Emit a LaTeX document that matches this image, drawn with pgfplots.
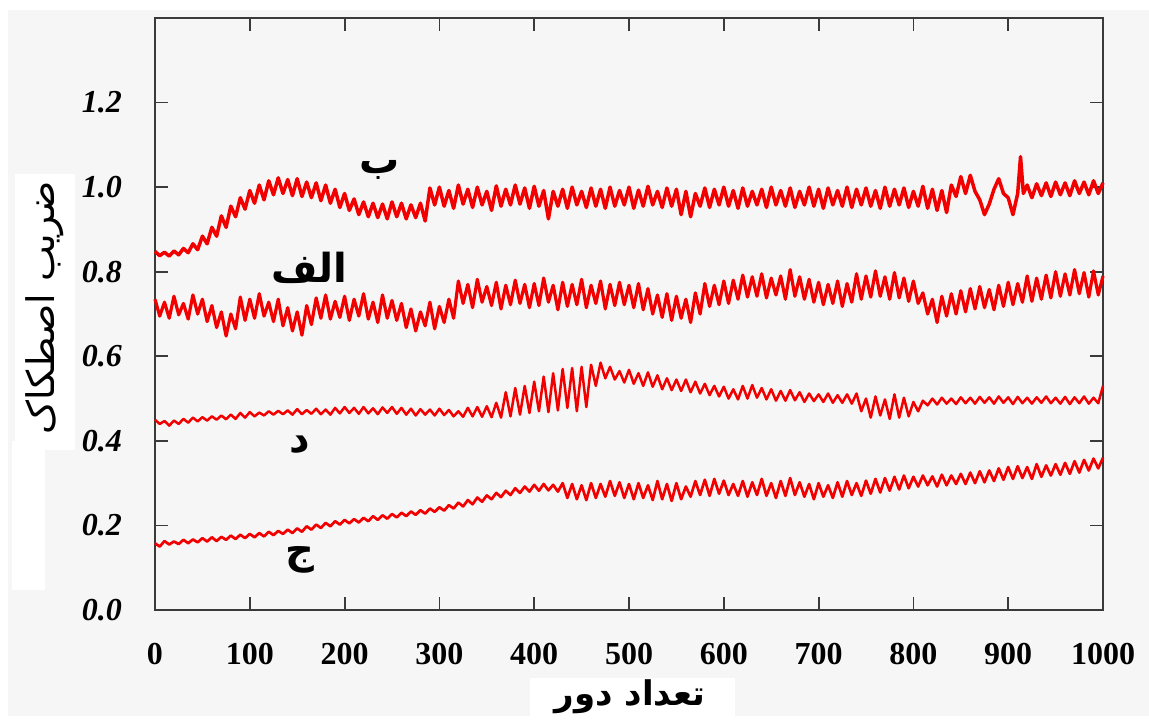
\documentclass[border=0pt]{standalone}
\usepackage{fontspec}
\setmainfont{Liberation Serif}
\newfontfamily\arabicfont[Script=Arabic]{DejaVu Sans}
\TeXXeTstate=1
\usepackage{pgfplots}
\pgfplotsset{compat=1.18}
\definecolor{curve}{HTML}{F20000}
\definecolor{bggray}{HTML}{F6F6F6}
\definecolor{axgray}{HTML}{3A3A3A}
\tikzset{trace/.style={curve, line width=1.3pt, line join=round, mark=none}}

\begin{document}
\begin{tikzpicture}
% page background (1px = 0.5pt, axis origin at lower left of the frame)
\fill[white] (-77.5pt,-53pt) rectangle (497pt,305pt);
\fill[bggray] (-73.5pt,-53pt) rectangle (497pt,300pt);
\begin{axis}[
    at={(0,0)}, anchor=south west,
    scale only axis,
    width=474pt, height=296pt,
    xmin=0, xmax=1000,
    ymin=0, ymax=1.4,
    xtick={0,100,...,1000},
    ytick={0,0.2,...,1.2},
    minor tick num=0,
    tick align=inside,
    major tick length=6.5pt,
    axis line style={axgray, line width=1pt},
    every tick/.style={axgray, line width=0.9pt},
    clip=false,
    font=\fontsize{16}{18}\selectfont,
    xticklabel style={font=\fontsize{16}{18}\selectfont\bfseries, yshift=-13pt},
    yticklabel style={font=\fontsize{16}{18}\selectfont\bfseries\itshape, xshift=-13pt,
        /pgf/number format/.cd, fixed, fixed zerofill, precision=1, assume math mode=true},
    xticklabel style={/pgf/number format/.cd, assume math mode=true, set thousands separator={}},
]
% white patches behind the axis titles
\fill[white] (axis cs:-147.7,1.032) rectangle (axis cs:-84.4,0.378);
\fill[white] (axis cs:-150.8,0.40) rectangle (axis cs:-116,0.047);
\fill[white] (axis cs:395.6,-0.161) rectangle (axis cs:611.8,-0.26);

% curve b (top)
\addplot[trace, line width=1.75pt] coordinates {
(0,0.848)(5,0.838)(10,0.846)(15,0.837)(20,0.849)(25,0.840)(30,0.855)(35,0.845)(40,0.866)(45,0.852)(50,0.884)(55,0.866)(60,0.905)(65,0.884)(70,0.932)(75,0.905)(80,0.955)(85,0.930)(90,0.975)(95,0.948)(100,0.992)(105,0.962)(110,1.005)(115,0.970)(120,1.015)(125,0.982)(130,1.022)(135,0.985)(140,1.018)(145,0.980)(150,1.020)(155,0.978)(160,1.012)(165,0.975)(170,1.010)(175,0.968)(180,1.005)(185,0.962)(190,0.995)(195,0.952)(200,0.985)(205,0.945)(210,0.972)(215,0.935)(220,0.965)(225,0.930)(230,0.962)(235,0.928)(240,0.960)(245,0.925)(250,0.965)(255,0.930)(260,0.962)(265,0.925)(270,0.958)(275,0.928)(280,0.962)(285,0.920)(290,0.998)(295,0.958)(300,1.000)(305,0.955)(310,0.992)(315,0.950)(320,1.005)(325,0.960)(330,0.995)(335,0.952)(340,1.000)(345,0.958)(350,0.990)(355,0.945)(360,1.003)(365,0.955)(370,0.995)(375,0.958)(380,1.005)(385,0.960)(390,0.998)(395,0.950)(400,1.002)(405,0.955)(410,0.992)(415,0.925)(420,0.990)(425,0.955)(430,0.995)(435,0.950)(440,1.000)(445,0.958)(450,0.990)(455,0.952)(460,0.998)(465,0.955)(470,0.995)(475,0.950)(480,1.000)(485,0.955)(490,0.992)(495,0.958)(500,1.000)(505,0.950)(510,0.993)(515,0.955)(520,1.002)(525,0.958)(530,0.990)(535,0.952)(540,0.998)(545,0.955)(550,0.995)(555,0.935)(560,0.990)(565,0.930)(570,0.985)(575,0.955)(580,0.998)(585,0.952)(590,0.995)(595,0.958)(600,1.000)(605,0.955)(610,0.992)(615,0.950)(620,0.998)(625,0.955)(630,0.990)(635,0.958)(640,0.995)(645,0.952)(650,1.000)(655,0.958)(660,0.992)(665,0.955)(670,0.998)(675,0.952)(680,0.990)(685,0.958)(690,1.000)(695,0.955)(700,0.995)(705,0.950)(710,0.998)(715,0.958)(720,0.992)(725,0.955)(730,1.000)(735,0.952)(740,0.995)(745,0.958)(750,0.998)(755,0.955)(760,0.992)(765,0.950)(770,1.000)(775,0.955)(780,0.995)(785,0.958)(790,0.998)(795,0.952)(800,0.990)(805,0.955)(810,1.002)(815,0.950)(820,0.995)(825,0.945)(830,0.992)(835,0.940)(840,1.005)(845,0.978)(850,1.025)(855,0.985)(860,1.028)(865,0.990)(870,0.970)(875,0.935)(880,0.960)(885,0.995)(890,1.020)(895,0.985)(900,0.975)(905,0.935)(910,0.985)(913,1.072)(916,0.985)(920,1.005)(925,0.975)(930,1.008)(935,0.980)(940,1.010)(945,0.978)(950,1.012)(955,0.982)(960,1.010)(965,0.980)(970,1.015)(975,0.985)(980,1.012)(985,0.982)(990,1.015)(995,0.985)(1000,1.010)
};
% curve alef
\addplot[trace, line width=1.6pt] coordinates {
(0,0.735)(5,0.695)(10,0.728)(15,0.690)(20,0.742)(25,0.698)(30,0.725)(35,0.688)(40,0.745)(45,0.700)(50,0.735)(55,0.682)(60,0.720)(65,0.668)(70,0.705)(75,0.648)(80,0.700)(85,0.665)(90,0.740)(95,0.685)(100,0.735)(105,0.690)(110,0.748)(115,0.695)(120,0.728)(125,0.682)(130,0.735)(135,0.672)(140,0.715)(145,0.660)(150,0.705)(155,0.650)(160,0.720)(165,0.675)(170,0.738)(175,0.690)(180,0.745)(185,0.688)(190,0.730)(195,0.692)(200,0.742)(205,0.685)(210,0.735)(215,0.695)(220,0.748)(225,0.688)(230,0.728)(235,0.680)(240,0.745)(245,0.690)(250,0.732)(255,0.685)(260,0.725)(265,0.668)(270,0.712)(275,0.660)(280,0.705)(285,0.672)(290,0.728)(295,0.665)(300,0.718)(305,0.680)(310,0.735)(315,0.690)(320,0.778)(325,0.725)(330,0.770)(335,0.715)(340,0.782)(345,0.728)(350,0.765)(355,0.720)(360,0.775)(365,0.712)(370,0.768)(375,0.722)(380,0.780)(385,0.725)(390,0.770)(395,0.715)(400,0.772)(405,0.720)(410,0.785)(415,0.728)(420,0.768)(425,0.710)(430,0.775)(435,0.718)(440,0.770)(445,0.722)(450,0.782)(455,0.715)(460,0.768)(465,0.725)(470,0.778)(475,0.712)(480,0.770)(485,0.720)(490,0.775)(495,0.722)(500,0.768)(505,0.715)(510,0.772)(515,0.710)(520,0.760)(525,0.700)(530,0.745)(535,0.692)(540,0.748)(545,0.685)(550,0.742)(555,0.690)(560,0.735)(565,0.680)(570,0.750)(575,0.700)(580,0.772)(585,0.718)(590,0.768)(595,0.722)(600,0.778)(605,0.725)(610,0.780)(615,0.735)(620,0.792)(625,0.740)(630,0.788)(635,0.742)(640,0.795)(645,0.738)(650,0.785)(655,0.745)(660,0.790)(665,0.735)(670,0.805)(675,0.742)(680,0.788)(685,0.735)(690,0.782)(695,0.728)(700,0.775)(705,0.722)(710,0.770)(715,0.725)(720,0.778)(725,0.718)(730,0.772)(735,0.728)(740,0.795)(745,0.735)(750,0.790)(755,0.740)(760,0.802)(765,0.742)(770,0.788)(775,0.735)(780,0.798)(785,0.738)(790,0.785)(795,0.730)(800,0.778)(805,0.725)(810,0.750)(815,0.700)(820,0.735)(825,0.680)(830,0.742)(835,0.695)(840,0.748)(845,0.700)(850,0.755)(855,0.705)(860,0.760)(865,0.712)(870,0.765)(875,0.715)(880,0.758)(885,0.710)(890,0.768)(895,0.718)(900,0.775)(905,0.722)(910,0.772)(915,0.728)(920,0.790)(925,0.730)(930,0.785)(935,0.735)(940,0.792)(945,0.738)(950,0.800)(955,0.742)(960,0.795)(965,0.745)(970,0.805)(975,0.748)(980,0.798)(985,0.740)(990,0.802)(995,0.745)(1000,0.790)
};
% curve dal
\addplot[trace, line width=1.25pt] coordinates {
(0,0.450)(5,0.440)(10,0.447)(15,0.436)(20,0.448)(25,0.440)(30,0.452)(35,0.443)(40,0.455)(45,0.446)(50,0.456)(55,0.448)(60,0.458)(65,0.450)(70,0.460)(75,0.451)(80,0.462)(85,0.452)(90,0.466)(95,0.455)(100,0.468)(105,0.458)(110,0.467)(115,0.460)(120,0.470)(125,0.462)(130,0.471)(135,0.463)(140,0.472)(145,0.462)(150,0.475)(155,0.463)(160,0.473)(165,0.464)(170,0.476)(175,0.463)(180,0.474)(185,0.462)(190,0.478)(195,0.465)(200,0.480)(205,0.466)(210,0.478)(215,0.464)(220,0.480)(225,0.465)(230,0.477)(235,0.463)(240,0.479)(245,0.466)(250,0.480)(255,0.464)(260,0.478)(265,0.462)(270,0.476)(275,0.460)(280,0.475)(285,0.462)(290,0.474)(295,0.460)(300,0.476)(305,0.461)(310,0.473)(315,0.458)(320,0.470)(325,0.457)(330,0.478)(335,0.458)(340,0.480)(345,0.457)(350,0.482)(355,0.456)(360,0.490)(365,0.455)(370,0.515)(375,0.458)(380,0.525)(385,0.462)(390,0.530)(395,0.466)(400,0.540)(405,0.470)(410,0.552)(415,0.468)(420,0.560)(425,0.472)(430,0.570)(435,0.478)(440,0.572)(445,0.470)(450,0.575)(455,0.480)(460,0.580)(465,0.530)(470,0.585)(475,0.548)(480,0.575)(485,0.545)(490,0.565)(495,0.538)(500,0.568)(505,0.535)(510,0.560)(515,0.530)(520,0.562)(525,0.528)(530,0.555)(535,0.522)(540,0.548)(545,0.520)(550,0.545)(555,0.518)(560,0.545)(565,0.515)(570,0.540)(575,0.512)(580,0.535)(585,0.508)(590,0.530)(595,0.505)(600,0.528)(605,0.500)(610,0.522)(615,0.498)(620,0.530)(625,0.500)(630,0.532)(635,0.502)(640,0.525)(645,0.498)(650,0.522)(655,0.495)(660,0.518)(665,0.495)(670,0.520)(675,0.496)(680,0.515)(685,0.492)(690,0.512)(695,0.494)(700,0.510)(705,0.492)(710,0.512)(715,0.490)(720,0.508)(725,0.490)(730,0.510)(735,0.488)(740,0.512)(745,0.470)(750,0.500)(755,0.455)(760,0.505)(765,0.460)(770,0.498)(775,0.452)(780,0.510)(785,0.455)(790,0.502)(795,0.458)(800,0.492)(805,0.470)(810,0.495)(815,0.484)(820,0.500)(825,0.486)(830,0.502)(835,0.488)(840,0.500)(845,0.487)(850,0.503)(855,0.489)(860,0.502)(865,0.488)(870,0.504)(875,0.490)(880,0.503)(885,0.488)(890,0.505)(895,0.490)(900,0.503)(905,0.487)(910,0.504)(915,0.489)(920,0.502)(925,0.488)(930,0.503)(935,0.490)(940,0.505)(945,0.489)(950,0.502)(955,0.488)(960,0.504)(965,0.487)(970,0.503)(975,0.489)(980,0.505)(985,0.488)(990,0.502)(995,0.489)(1000,0.530)
};
% curve jim
\addplot[trace, line width=1.35pt] coordinates {
(0,0.158)(5,0.150)(10,0.163)(15,0.155)(20,0.162)(25,0.156)(30,0.166)(35,0.158)(40,0.167)(45,0.160)(50,0.170)(55,0.162)(60,0.172)(65,0.163)(70,0.173)(75,0.166)(80,0.176)(85,0.168)(90,0.178)(95,0.170)(100,0.180)(105,0.172)(110,0.182)(115,0.174)(120,0.185)(125,0.177)(130,0.187)(135,0.180)(140,0.190)(145,0.182)(150,0.193)(155,0.185)(160,0.198)(165,0.190)(170,0.202)(175,0.194)(180,0.206)(185,0.198)(190,0.210)(195,0.202)(200,0.213)(205,0.205)(210,0.215)(215,0.207)(220,0.218)(225,0.210)(230,0.222)(235,0.213)(240,0.224)(245,0.216)(250,0.227)(255,0.219)(260,0.230)(265,0.222)(270,0.233)(275,0.225)(280,0.236)(285,0.228)(290,0.240)(295,0.232)(300,0.243)(305,0.235)(310,0.248)(315,0.240)(320,0.254)(325,0.245)(330,0.260)(335,0.250)(340,0.266)(345,0.256)(350,0.271)(355,0.262)(360,0.277)(365,0.267)(370,0.282)(375,0.272)(380,0.288)(385,0.277)(390,0.292)(395,0.280)(400,0.296)(405,0.282)(410,0.298)(415,0.283)(420,0.296)(425,0.280)(430,0.300)(435,0.265)(440,0.298)(445,0.262)(450,0.295)(455,0.260)(460,0.300)(465,0.265)(470,0.298)(475,0.268)(480,0.305)(485,0.270)(490,0.302)(495,0.265)(500,0.298)(505,0.262)(510,0.300)(515,0.265)(520,0.295)(525,0.260)(530,0.305)(535,0.262)(540,0.298)(545,0.258)(550,0.300)(555,0.262)(560,0.292)(565,0.268)(570,0.305)(575,0.272)(580,0.308)(585,0.270)(590,0.310)(595,0.275)(600,0.306)(605,0.272)(610,0.298)(615,0.270)(620,0.305)(625,0.268)(630,0.302)(635,0.272)(640,0.310)(645,0.270)(650,0.300)(655,0.265)(660,0.305)(665,0.270)(670,0.312)(675,0.272)(680,0.302)(685,0.268)(690,0.298)(695,0.262)(700,0.300)(705,0.268)(710,0.295)(715,0.265)(720,0.302)(725,0.268)(730,0.305)(735,0.272)(740,0.300)(745,0.270)(750,0.306)(755,0.275)(760,0.310)(765,0.278)(770,0.312)(775,0.282)(780,0.315)(785,0.285)(790,0.318)(795,0.288)(800,0.315)(805,0.292)(810,0.318)(815,0.295)(820,0.316)(825,0.292)(830,0.320)(835,0.295)(840,0.318)(845,0.298)(850,0.322)(855,0.298)(860,0.325)(865,0.300)(870,0.328)(875,0.302)(880,0.330)(885,0.305)(890,0.335)(895,0.308)(900,0.338)(905,0.310)(910,0.340)(915,0.312)(920,0.338)(925,0.310)(930,0.345)(935,0.315)(940,0.342)(945,0.318)(950,0.345)(955,0.320)(960,0.348)(965,0.322)(970,0.352)(975,0.325)(980,0.355)(985,0.330)(990,0.358)(995,0.335)(1000,0.360)
};

% curve names
\node[font=\arabicfont\bfseries\fontsize{20}{24}\selectfont] at (axis cs:237,1.04) {\beginR ب\endR};
\node[font=\arabicfont\bfseries\fontsize{20}{24}\selectfont] at (axis cs:163,0.808) {\beginR الف\endR};
\node[font=\arabicfont\bfseries\fontsize{20}{24}\selectfont] at (axis cs:153,0.39) {\beginR د\endR};
\node[font=\arabicfont\bfseries\fontsize{20}{24}\selectfont] at (axis cs:153,0.118) {\beginR ج\endR};

% axis titles
\node[rotate=90, font=\arabicfont\fontsize{19}{22}\selectfont] at (axis cs:-116,0.715) {\beginR ضریب اصطکاک\endR};
\node[font=\arabicfont\bfseries\fontsize{17}{20}\selectfont] at (axis cs:501,-0.2055) {\beginR تعداد دور\endR};
\end{axis}
\useasboundingbox (-77.5pt,-53pt) rectangle (497pt,305pt);
\end{tikzpicture}
\end{document}
